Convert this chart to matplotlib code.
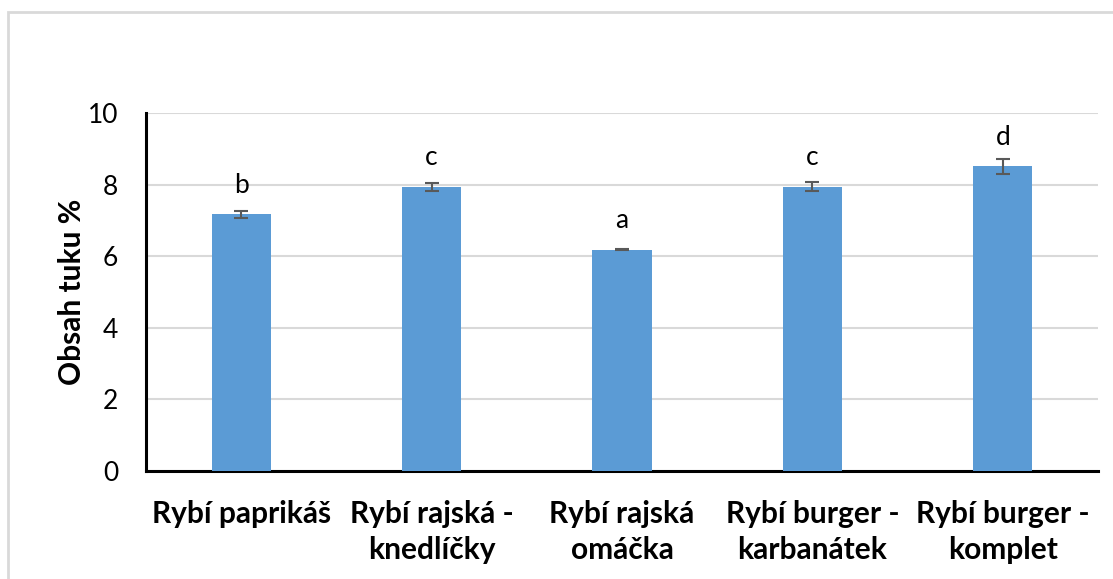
import matplotlib
matplotlib.use("Agg")
import matplotlib.pyplot as plt
from matplotlib.patches import Rectangle

plt.rcParams["font.family"] = ["Lato", "DejaVu Sans"]

# Fat content per product (mean, standard deviation, significance group)
products = ["Rybí paprikáš", "Rybí rajská -\nknedlíčky", "Rybí rajská\nomáčka",
            "Rybí burger -\nkarbanátek", "Rybí burger -\nkomplet"]
fat_mean = [7.17, 7.94, 6.18, 7.94, 8.51]
fat_sd = [0.10, 0.11, 0.02, 0.12, 0.21]
groups = ["b", "c", "a", "c", "d"]

BAR_COLOR = "#5B9BD5"
GRID_COLOR = "#D9D9D9"

fig = plt.figure(figsize=(11.13, 5.79), dpi=100)
ax = fig.add_axes([146 / 1113, 108 / 579, 952 / 1113, 358 / 579])

x = range(len(products))
ax.bar(x, fat_mean, width=0.31, color=BAR_COLOR, zorder=3)
ax.errorbar(x, fat_mean, yerr=fat_sd, fmt="none", ecolor="#595959",
            elinewidth=1.5, capsize=5, capthick=1.5, zorder=4)

# group letters above each bar
for xi, m, g in zip(x, fat_mean, groups):
    ax.annotate(g, (xi, m), xytext=(0, 12), textcoords="offset points",
                ha="center", va="bottom", fontsize=19, color="black")

ax.set_xlim(-0.5, len(products) - 0.5)
ax.set_ylim(0, 10)
ax.set_yticks([0, 2, 4, 6, 8, 10])
ax.yaxis.grid(True, color=GRID_COLOR, linewidth=1.5, zorder=0)
ax.set_axisbelow(True)

ax.set_xticks(list(x))
ax.set_xticklabels(products, fontsize=21.5, fontweight="bold", linespacing=1.35)
ax.tick_params(axis="x", length=0, pad=21)
ax.tick_params(axis="y", length=0, pad=20, labelsize=19)

ax.set_ylabel("Obsah tuku %", fontsize=21.5, fontweight="bold")
ax.yaxis.set_label_coords(-0.063, 0.5)

for side in ["top", "right"]:
    ax.spines[side].set_visible(False)
for side in ["left", "bottom"]:
    ax.spines[side].set_linewidth(2.2)
    ax.spines[side].set_color("black")

# light frame around the chart area
fig.patches.append(Rectangle((8 / 1113, -0.1), 1.2, (579 - 12) / 579 + 0.1,
                             transform=fig.transFigure, fill=False,
                             edgecolor=GRID_COLOR, linewidth=2))

fig.savefig("out.png", dpi=100)
